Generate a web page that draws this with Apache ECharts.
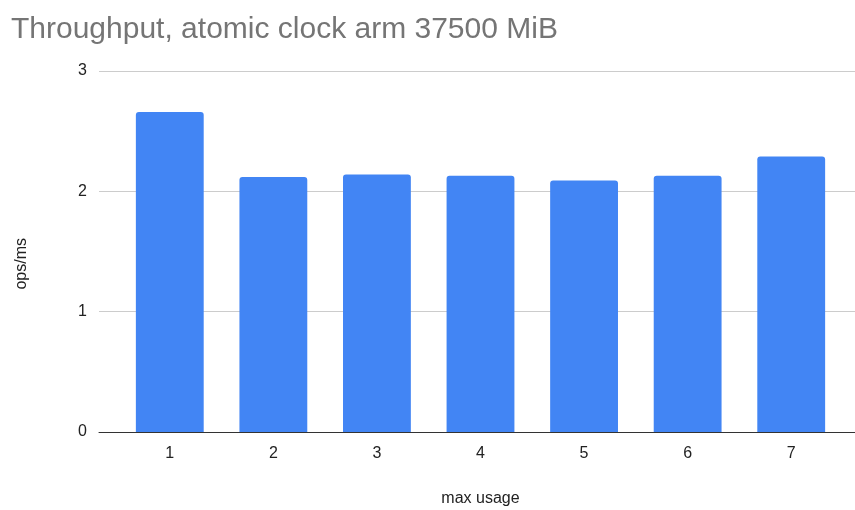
<!DOCTYPE html>
<html>
<head>
<meta charset="utf-8">
<script src="https://cdn.jsdelivr.net/npm/echarts@6/dist/echarts.min.js"></script>
<style>
  html, body { margin: 0; padding: 0; background: #ffffff; }
  #chart { width: 855px; height: 510px; }
</style>
</head>
<body>
<div id="chart"></div>
<script>
// Throughput per "max usage" setting
const categories = ['1', '2', '3', '4', '5', '6', '7'];
const throughput = [2.66, 2.12, 2.14, 2.13, 2.09, 2.13, 2.29];
const yTicks = { min: 0, max: 3, interval: 1 };

const FONT = '"Liberation Sans", Arial, sans-serif';
const PLOT_TOP = 71;
const PLOT_BOTTOM = 78;

const chart = echarts.init(document.getElementById('chart'), null, { renderer: 'canvas' });

chart.setOption({
  animation: false,
  backgroundColor: '#ffffff',
  title: {
    text: 'Throughput, atomic clock arm 37500 MiB',
    left: 6,
    top: 10,
    textStyle: { fontFamily: FONT, fontSize: 30, fontWeight: 'normal', color: '#757575' }
  },
  grid: [
    // full-width grid carrying the horizontal gridlines and the baseline
    { left: 99, right: 0, top: PLOT_TOP, bottom: PLOT_BOTTOM, containLabel: false, outerBoundsMode: 'none' },
    // inner grid holding the category bands and bars
    { left: 118, right: 12, top: PLOT_TOP, bottom: PLOT_BOTTOM, containLabel: false, outerBoundsMode: 'none' }
  ],
  xAxis: [
    {
      gridIndex: 0, type: 'value', min: 0, max: 1,
      axisLine: { show: true, onZero: false, lineStyle: { color: '#333333', width: 1 } },
      axisTick: { show: false }, axisLabel: { show: false }, splitLine: { show: false },
      z: 5
    },
    {
      gridIndex: 1, type: 'category', data: categories,
      name: 'max usage', nameLocation: 'middle', nameGap: 59,
      nameTextStyle: { fontFamily: FONT, fontSize: 16, color: '#222222' },
      axisLine: { show: false }, axisTick: { show: false },
      axisLabel: { fontFamily: FONT, fontSize: 16, color: '#222222', margin: 14 }
    }
  ],
  yAxis: [
    {
      gridIndex: 0, type: 'value', min: yTicks.min, max: yTicks.max, interval: yTicks.interval,
      axisLine: { show: false }, axisTick: { show: false },
      axisLabel: { fontFamily: FONT, fontSize: 16, color: '#222222', margin: 12 },
      splitLine: { show: true, lineStyle: { color: '#cccccc', width: 1 } }
    },
    {
      gridIndex: 1, type: 'value', min: yTicks.min, max: yTicks.max, interval: yTicks.interval,
      axisLine: { show: false }, axisTick: { show: false }, axisLabel: { show: false },
      splitLine: { show: false }
    }
  ],
  graphic: [
    {
      type: 'text',
      left: 14,
      top: 264 - 26,
      rotation: Math.PI / 2,
      style: { text: 'ops/ms', fontFamily: FONT, fontSize: 16, fill: '#222222' }
    }
  ],
  series: [
    {
      type: 'bar',
      xAxisIndex: 1, yAxisIndex: 1,
      data: throughput,
      barWidth: '65.5%',
      itemStyle: { color: '#4285f4', borderRadius: [3, 3, 0, 0] },
      z: 3
    }
  ]
});
</script>
</body>
</html>
